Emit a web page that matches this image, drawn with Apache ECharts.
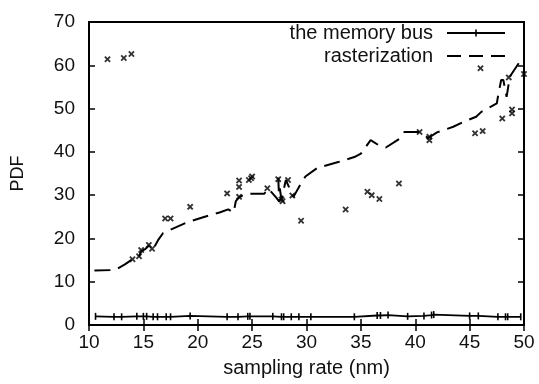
<!DOCTYPE html>
<html>
<head>
<meta charset="utf-8">
<script src="https://cdn.jsdelivr.net/npm/echarts@6/dist/echarts.min.js"></script>
<style>
html,body{margin:0;padding:0;background:#fff;}
#chart{width:539px;height:384px;}
</style>
</head>
<body>
<div id="chart"></div>
<script>
// memory bus series
var busX = [10.6, 12.3, 13.0, 14.4, 15.0, 15.3, 15.9, 16.3, 17.1, 17.5, 19.3, 22.7, 23.7, 24.6, 24.8, 26.9, 27.7, 27.9, 28.6, 29.3, 30.4, 34.4, 36.5, 36.8, 37.5, 39.3, 40.8, 41.5, 41.7, 45.0, 45.8, 47.6, 48.3, 48.5, 49.7];
var busY = [2.0, 1.9, 1.9, 2.0, 2.0, 2.0, 1.9, 1.9, 1.9, 1.9, 2.1, 1.9, 1.9, 2.0, 2.0, 2.0, 1.9, 1.9, 1.9, 1.9, 1.9, 1.9, 2.2, 2.2, 2.3, 2.0, 2.1, 2.3, 2.4, 2.1, 2.1, 1.9, 1.9, 1.9, 1.9];
// rasterization line
var rastX = [10.5, 12.4, 13.3, 14.0, 14.6, 14.8, 15.2, 15.5, 15.9, 16.4, 16.8, 17.5, 19.0, 20.5, 22.0, 22.8, 23.3, 23.5, 23.8, 24.4, 26.1, 26.5, 27.2, 27.5, 27.4, 27.7, 28.1, 28.8, 29.5, 29.9, 31.0, 33.0, 34.4, 35.0, 35.9, 36.6, 37.3, 38.6, 39.0, 40.4, 41.2, 42.0, 43.5, 44.5, 45.6, 46.1, 47.5, 47.6, 47.9, 48.1, 48.4, 48.7, 49.6, 49.8];
var rastY = [12.6, 12.7, 14.0, 15.2, 15.9, 17.0, 17.6, 18.3, 17.5, 19.8, 21.2, 22.0, 23.7, 24.9, 26.0, 26.7, 26.0, 28.6, 29.5, 30.3, 30.3, 31.5, 29.5, 28.5, 34.0, 28.9, 33.5, 29.6, 32.7, 34.3, 36.3, 37.7, 38.8, 39.6, 42.7, 41.6, 41.0, 43.1, 44.6, 44.6, 43.2, 44.5, 45.8, 47.0, 48.1, 49.3, 51.2, 52.7, 56.6, 56.6, 52.7, 57.4, 60.8, 61.2];
// scattered x points
var ptX = [11.7, 13.2, 13.9, 14.0, 14.6, 14.8, 15.5, 15.8, 17.0, 17.5, 19.3, 22.7, 23.8, 23.8, 23.8, 24.7, 24.9, 25.0, 26.4, 27.4, 27.7, 27.8, 28.3, 28.7, 29.5, 33.6, 35.6, 36.0, 36.7, 38.5, 40.4, 41.3, 41.3, 45.5, 46.2, 46.0, 48.0, 48.6, 48.9, 48.9, 50.0];
var ptY = [61.4, 61.7, 62.6, 15.2, 15.9, 17.3, 18.5, 17.6, 24.6, 24.6, 27.3, 30.4, 33.4, 31.9, 29.6, 33.5, 33.9, 34.3, 31.6, 33.7, 29.0, 28.6, 33.5, 29.9, 24.1, 26.7, 30.8, 30.0, 29.1, 32.7, 44.6, 43.5, 42.7, 44.3, 44.8, 59.3, 47.7, 57.2, 48.9, 49.8, 58.0];
var xTicks = [10, 15, 20, 25, 30, 35, 40, 45, 50];
var yTicks = [0, 10, 20, 30, 40, 50, 60, 70];

function zip(a, b) { return a.map(function (v, i) { return [v, b[i]]; }); }

var font = 'Liberation Sans, Arial, sans-serif';
var xSym = 'path://M0,2 L2,0 L5,3 L8,0 L10,2 L7,5 L10,8 L8,10 L5,7 L2,10 L0,8 L3,5 Z';
var busIcon = 'path://M0,4.1 L58,4.1 L58,5.9 L29.8,5.9 L29.8,8.5 L28.2,8.5 L28.2,5.9 L0,5.9 Z M28.2,1.5 L29.8,1.5 L29.8,4.1 L28.2,4.1 Z';
var rastIcon = 'path://M0,4 L14,4 L14,6 L0,6 Z M22,4 L36,4 L36,6 L22,6 Z M44,4 L58,4 L58,6 L44,6 Z';

var chart = echarts.init(document.getElementById('chart'));
chart.setOption({
  backgroundColor: '#fff',
  animation: false,
  grid: { left: 89, right: 15, top: 22, bottom: 59, show: true, borderColor: '#000', borderWidth: 2, backgroundColor: 'transparent' },
  legend: {
    data: [
      { name: 'the memory bus', icon: busIcon },
      { name: 'rasterization', icon: rastIcon }
    ],
    orient: 'vertical', right: 29, top: 18, align: 'right',
    itemWidth: 58, itemHeight: 10, itemGap: 3,
    itemStyle: { color: '#000', borderWidth: 0 },
    textStyle: { fontFamily: font, fontSize: 20, color: '#111', padding: [0, 9, 0, 0] },
    selectedMode: false
  },
  xAxis: [{
    type: 'value', min: 10, max: 50, interval: 5,
    name: 'sampling rate (nm)', nameLocation: 'middle', nameGap: 33,
    nameTextStyle: { fontFamily: font, fontSize: 20, color: '#111' },
    axisLine: { show: true, lineStyle: { color: '#000', width: 2 } },
    axisTick: { inside: true, length: 6, lineStyle: { color: '#000', width: 1.5 } },
    axisLabel: { fontFamily: font, fontSize: 19, color: '#111', margin: 8,
      formatter: function (v) { return xTicks.indexOf(v) >= 0 ? String(v) : ''; } },
    splitLine: { show: false }
  }, {
    type: 'value', min: 10, max: 50, interval: 5, position: 'top',
    axisLine: { show: false },
    axisTick: { inside: true, length: 6, lineStyle: { color: '#000', width: 1.5 } },
    axisLabel: { show: false }, splitLine: { show: false }
  }],
  yAxis: [{
    type: 'value', min: 0, max: 70, interval: 10,
    name: 'PDF', nameLocation: 'middle', nameGap: 62, nameRotate: 90,
    nameTextStyle: { fontFamily: font, fontSize: 18, color: '#111' },
    axisLine: { show: true, lineStyle: { color: '#000', width: 2 } },
    axisTick: { inside: true, length: 6, lineStyle: { color: '#000', width: 1.5 } },
    axisLabel: { fontFamily: font, fontSize: 19, color: '#111', margin: 14,
      formatter: function (v) { return yTicks.indexOf(v) >= 0 ? String(v) : ''; } },
    splitLine: { show: false }
  }, {
    type: 'value', min: 0, max: 70, interval: 10, position: 'right',
    axisLine: { show: false },
    axisTick: { inside: true, length: 6, lineStyle: { color: '#000', width: 1.5 } },
    axisLabel: { show: false }, splitLine: { show: false }
  }],
  series: [{
    name: 'the memory bus', type: 'line',
    data: zip(busX, busY),
    symbol: 'rect', symbolSize: [1.6, 7], showSymbol: true,
    itemStyle: { color: '#000' },
    lineStyle: { color: '#000', width: 1.8 },
    z: 3
  }, {
    name: 'rasterization', type: 'line',
    data: zip(rastX, rastY),
    symbol: 'none',
    itemStyle: { color: '#000' },
    lineStyle: { color: '#000', width: 2, type: [16, 8] },
    z: 3
  }, {
    name: 'points', type: 'scatter',
    data: zip(ptX, ptY),
    symbol: xSym, symbolSize: 6.5,
    itemStyle: { color: '#000' },
    z: 4
  }]
});
</script>
</body>
</html>
